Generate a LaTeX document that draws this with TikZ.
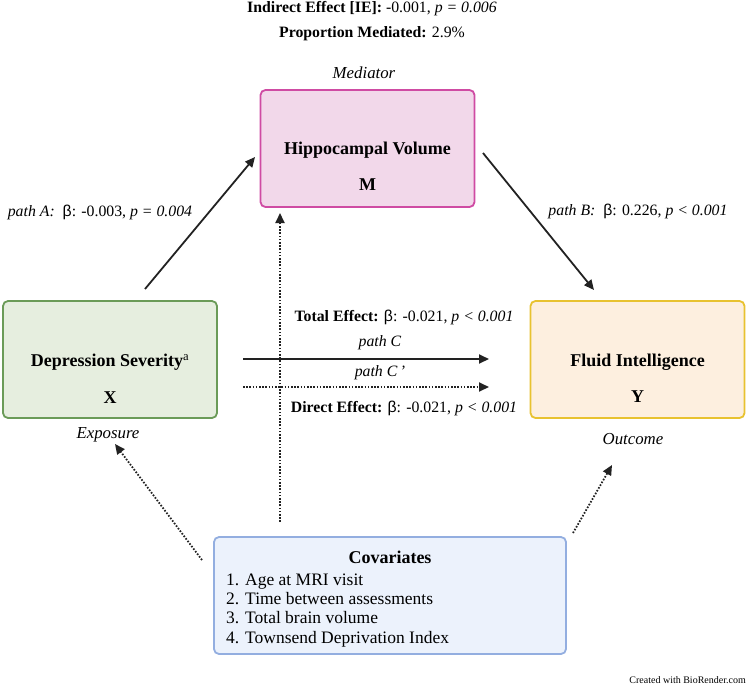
\documentclass[tikz,border=0pt]{standalone}
\usepackage{fontspec}
\setmainfont{Liberation Serif}
\newfontfamily\betafont{Liberation Sans}
\usepackage{tikz}
\usetikzlibrary{arrows.meta,calc}
\usepackage{xcolor}
\definecolor{med_fill}{HTML}{F2D8EA}
\definecolor{med_line}{HTML}{CF4BA3}
\definecolor{exp_fill}{HTML}{E6EEDF}
\definecolor{exp_line}{HTML}{6B9B58}
\definecolor{out_fill}{HTML}{FDEFDF}
\definecolor{out_line}{HTML}{E8C230}
\definecolor{cov_fill}{HTML}{ECF2FC}
\definecolor{cov_line}{HTML}{93AEE0}
\definecolor{arrow_grey}{HTML}{222222}
\newcommand{\betasym}{{\betafont β}}

\begin{document}
\begin{tikzpicture}[x=1pt, y=-1pt,
	varbox/.style={draw, rounded corners=5pt, line width=1.8pt, minimum width=214pt, minimum height=117pt, inner sep=0pt},
	boxtitle/.style={font=\fontsize{18}{21}\selectfont\bfseries},
	lbl/.style={font=\fontsize{15.8}{18}\selectfont},
	role/.style={font=\fontsize{16.8}{19}\selectfont\itshape},
	solidarrow/.style={line width=1.8pt, color=arrow_grey, -{Triangle[length=10pt, width=9pt]}},
	dotarrow/.style={line width=1.8pt, color=arrow_grey, dash pattern=on 1.6pt off 1.6pt, -{Triangle[length=10pt, width=9pt]}}]
	\useasboundingbox (0, 0) rectangle (749, 688);
	% boxes
	\node[varbox, fill=med_fill, draw=med_line] (M) at (367.5, 148.5) {};
	\node[varbox, fill=exp_fill, draw=exp_line] (X) at (110, 359.5) {};
	\node[varbox, fill=out_fill, draw=out_line] (Y) at (637.5, 359.5) {};
	\node[varbox, fill=cov_fill, draw=cov_line, minimum width=352pt] (Cov) at (390, 595.5) {};
	\node[boxtitle] (Mname) at (367.5, 150) {Hippocampal Volume};
	\node[boxtitle] (Mletter) at (367.5, 185) {M};
	\node[boxtitle] (Xname) at (110, 362) {Depression Severity\textsuperscript{\normalfont a}};
	\node[boxtitle] (Xletter) at (110, 398) {X};
	\node[boxtitle] (Yname) at (637.5, 362) {Fluid Intelligence};
	\node[boxtitle] (Yletter) at (637.5, 397) {Y};
	\node[boxtitle] (Covname) at (390, 557) {Covariates};
	\node[anchor=north west, align=left, inner sep=0pt, font=\fontsize{17.5}{19.3}\selectfont] (Covlist) at (226, 573.5)
		{1. Age at MRI visit\\2. Time between assessments\\3. Total brain volume\\4. Townsend Deprivation Index};
	\node[role] (Mrole) at (364, 73) {Mediator};
	\node[role] (Xrole) at (108, 435) {Exposure};
	\node[role] (Yrole) at (633, 439) {Outcome};
	% top summary
	\node[lbl] (IE) at (372, 9) {\textbf{Indirect Effect [IE]:} -0.001, \textit{p = 0.006}};
	\node[lbl] (PM) at (372, 34) {\textbf{Proportion Mediated:} 2.9\%};
	% arrow end points
	\coordinate (A0) at (145, 289);
	\coordinate (A1) at (255, 157);
	\coordinate (B0) at (483, 153);
	\coordinate (B1) at (594, 290);
	\coordinate (C0) at (243, 359);
	\coordinate (C1) at (489, 359);
	\coordinate (D0) at (243, 387);
	\coordinate (D1) at (489, 387);
	\coordinate (E0) at (280, 522);
	\coordinate (E1) at (280, 213);
	\coordinate (F0) at (202, 560);
	\coordinate (F1) at (115, 444);
	\coordinate (G0) at (573, 533);
	\coordinate (G1) at (612, 465);
	\draw[solidarrow] (A0) -- (A1);
	\draw[solidarrow] (B0) -- (B1);
	\draw[solidarrow] (C0) -- (C1);
	\draw[dotarrow] (D0) -- (D1);
	\draw[dotarrow] (E0) -- (E1);
	\draw[dotarrow] (F0) -- (F1);
	\draw[dotarrow] (G0) -- (G1);
	% path labels
	\node[lbl] (Alabel) at (100, 212) {\textit{path A:}\ \ \betasym: -0.003, \textit{p = 0.004}};
	\node[lbl] (Blabel) at (638, 211) {\textit{path B:}\ \ \betasym: 0.226, \textit{p < 0.001}};
	\node[lbl] (Clabel) at (404, 317) {\textbf{Total Effect:} \betasym: -0.021, \textit{p < 0.001}};
	\node[lbl] (Cpath) at (380, 343) {\textit{path C}};
	\node[lbl] (Dpath) at (380, 373) {\textit{path C\,'}};
	\node[lbl] (Dlabel) at (404, 408) {\textbf{Direct Effect:} \betasym: -0.021, \textit{p < 0.001}};
	\node[anchor=east, inner sep=0pt, font=\fontsize{10}{12}\selectfont] (credit) at (746, 680) {Created with BioRender.com};
\end{tikzpicture}
\end{document}
